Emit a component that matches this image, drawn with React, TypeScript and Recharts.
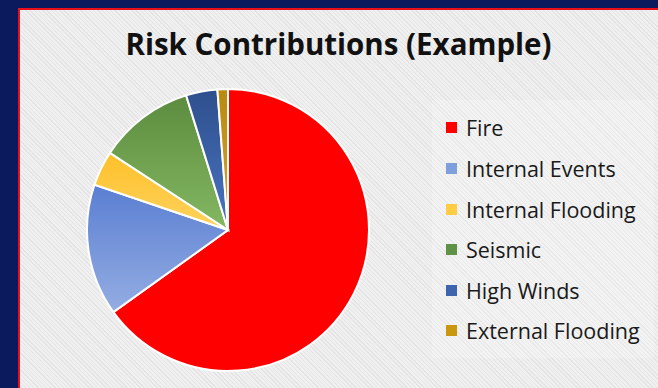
import React from 'react';
import { PieChart, Pie, Cell } from 'recharts';

const categories = ['Fire', 'Internal Events', 'Internal Flooding', 'Seismic', 'High Winds', 'External Flooding'];
const shares = [65.1, 15.1, 4.0, 11.0, 3.6, 1.2];
const colorsTop = ['#ff0000', '#5a7ed2', '#fdc02a', '#5c8c3e', '#2e4f8c', '#b88a10'];
const colorsBottom = ['#ff0000', '#94ade2', '#ffd35e', '#84b862', '#4a74c2', '#d8a62a'];
const legendColors = ['#ff0000', '#7f9fdc', '#ffcc44', '#5f9146', '#3d64ad', '#c9980f'];

const data = categories.map((name, i) => ({ name, value: shares[i] }));

export default function App() {
  return (
    <div style={{ position: 'fixed', left: 0, top: 0, width: 658, height: 388, background: '#0b1a5c', overflow: 'hidden' }}>
      <div
        style={{
          position: 'absolute',
          left: 18,
          top: 8,
          width: 642,
          height: 382,
          borderTop: '2px solid #e8101a',
          borderLeft: '2px solid #e8101a',
          boxSizing: 'border-box',
          background: 'repeating-linear-gradient(45deg, #f0f0f0 0px, #f0f0f0 2px, #e4e4e4 2px, #e4e4e4 3px)'
        }}
      >
        <div
          style={{
            position: 'absolute',
            left: 0,
            width: 637,
            top: 19,
            lineHeight: '30px',
            textAlign: 'center',
            fontFamily: '"Open Sans", sans-serif',
            fontWeight: 700,
            fontSize: 29.5,
            color: '#111'
          }}
        >
          Risk Contributions (Example)
        </div>
        <div
          style={{
            position: 'absolute',
            left: 412,
            top: 90,
            width: 222,
            height: 258,
            background: 'rgba(255,255,255,0.2)'
          }}
        />
        <div style={{ position: 'absolute', left: 0, top: 0 }}>
          <PieChart width={400} height={378}>
            <defs>
              {categories.map((name, i) => (
                <linearGradient key={name} id={`grad${i}`} x1="0" y1="0" x2="0" y2="1">
                  <stop offset="0%" stopColor={colorsTop[i]} />
                  <stop offset="100%" stopColor={colorsBottom[i]} />
                </linearGradient>
              ))}
            </defs>
            <Pie
              data={data}
              dataKey="value"
              nameKey="name"
              cx={203}
              cy={215}
              outerRadius={141}
              startAngle={90}
              endAngle={-270}
              stroke="#ffffff"
              strokeWidth={2}
              isAnimationActive={false}
            >
              {data.map((d, i) => (
                <Cell key={d.name} fill={`url(#grad${i})`} />
              ))}
            </Pie>
          </PieChart>
        </div>
        {/* legend */}
        <div style={{ position: 'absolute', left: 426, top: 97.7 }}>
          {categories.map((name, i) => (
            <div key={name} style={{ display: 'flex', alignItems: 'center', height: 40.6 }}>
              <span
                style={{
                  display: 'inline-block',
                  width: 11,
                  height: 11,
                  background: legendColors[i],
                  marginRight: 9
                }}
              />
              <span style={{ fontSize: 21.5, color: '#1a1a1a', fontFamily: '"Open Sans", sans-serif', whiteSpace: 'nowrap' }}>
                {name}
              </span>
            </div>
          ))}
        </div>
      </div>
    </div>
  );
}
